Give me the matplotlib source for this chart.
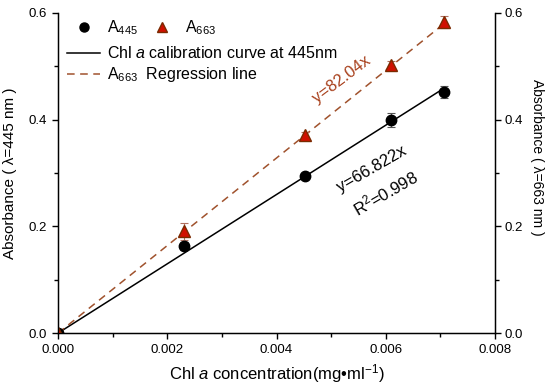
import matplotlib
matplotlib.use("Agg")
import matplotlib.pyplot as plt
import numpy as np
from matplotlib.lines import Line2D
from matplotlib.ticker import MultipleLocator, FormatStrFormatter

plt.rcParams['font.family'] = ['Liberation Sans', 'DejaVu Sans']
plt.rcParams['mathtext.fontset'] = 'custom'
plt.rcParams['mathtext.rm'] = 'Liberation Sans'
plt.rcParams['mathtext.it'] = 'Liberation Sans:italic'

conc = [0.0, 0.00231, 0.00452, 0.0061, 0.00707]
a445 = [0.0, 0.163, 0.294, 0.399, 0.452]
a445_err = [0.0, 0.008, 0.004, 0.013, 0.011]
a663 = [0.0, 0.191, 0.371, 0.503, 0.583]
a663_err = [0.0, 0.016, 0.006, 0.006, 0.011]
slope663 = 82.04

cx = np.array(conc)
cy = np.array(a445)
slope_fit445 = float((cx * cy).sum() / (cx * cx).sum())

fig = plt.figure(figsize=(5.5, 3.91), dpi=100)
ax = fig.add_axes([0.1055, 0.148, 0.7945, 0.819])

xl = np.array([0.0, conc[-1]])
ax.plot(xl, slope_fit445 * xl, color='black', lw=1.1, zorder=2)
ax.plot(xl, slope663 * xl, color='#A0522D', lw=1.1, ls=(0, (5, 3.6)), zorder=2)

ax.errorbar(conc, a445, yerr=a445_err, fmt='o', color='black', ms=7.5,
            ecolor='#555555', elinewidth=0.8, capsize=3, capthick=0.8, zorder=3)
ax.errorbar(conc, a663, yerr=a663_err, fmt='^', mfc='#D01000', mec='#7A2A00',
            ms=8.5, ecolor='#B07060', elinewidth=0.8, capsize=3, capthick=0.8, zorder=3)

ax.set_xlim(0, 0.008)
ax.set_ylim(0, 0.6)
ax.xaxis.set_major_locator(MultipleLocator(0.002))
ax.xaxis.set_minor_locator(MultipleLocator(0.001))
ax.yaxis.set_major_locator(MultipleLocator(0.2))
ax.yaxis.set_minor_locator(MultipleLocator(0.1))
ax.xaxis.set_major_formatter(FormatStrFormatter('%.3f'))
ax.yaxis.set_major_formatter(FormatStrFormatter('%.1f'))
ax.spines['top'].set_visible(False)
for s in ['left', 'bottom', 'right']:
    ax.spines[s].set_linewidth(1.0)
ax.tick_params(which='both', direction='out', labelsize=9.5, width=1.0, pad=4)
ax.tick_params(which='major', length=4)
ax.tick_params(which='minor', length=3)

ax2 = ax.twinx()
ax2.set_ylim(0, 0.6)
ax2.yaxis.set_major_locator(MultipleLocator(0.2))
ax2.yaxis.set_minor_locator(MultipleLocator(0.1))
ax2.yaxis.set_major_formatter(FormatStrFormatter('%.1f'))
ax2.spines['top'].set_visible(False)
ax2.tick_params(which='both', direction='out', labelsize=9.5, width=1.0, pad=3)
ax2.tick_params(which='major', length=4)
ax2.tick_params(which='minor', length=3)

ax.set_xlabel('Chl $a$ concentration(mg\u2022ml$^{-1}$)', fontsize=12, labelpad=4)
ax.set_ylabel('Absorbance ( \u03bb=445 nm )', fontsize=11)
ax.yaxis.set_label_coords(-0.094, 0.5)
ax2.set_ylabel('Absorbance ( \u03bb=663 nm )', fontsize=10, rotation=270, va='center')
ax2.yaxis.set_label_coords(1.096, 0.55)

ax.text(0.00519, 0.476, 'y=82.04x', color='#A8401C', fontsize=12, rotation=37,
        ha='center', va='center', rotation_mode='anchor')
ax.text(0.00575, 0.3075, 'y=66.822x', color='black', fontsize=12, rotation=30,
        ha='center', va='center', rotation_mode='anchor')
ax.text(0.0060, 0.2625, 'R$^2$=0.998', color='black', fontsize=12, rotation=30,
        ha='center', va='center', rotation_mode='anchor')

h1 = Line2D([], [], marker='o', ls='none', color='black', ms=6.5)
h2 = Line2D([], [], marker='^', ls='none', mfc='#D01000', mec='#7A2A00', ms=7.5)
leg1 = ax.legend([h1, h2], ['A$_{445}$', 'A$_{663}$'], ncol=2, frameon=False,
                 loc='center left', bbox_to_anchor=(0.032, 0.953), fontsize=11.5,
                 handlelength=1.5, columnspacing=0.75, handletextpad=0.7,
                 borderpad=0, borderaxespad=0)
ax.add_artist(leg1)
h3 = Line2D([], [], color='black', lw=1.1)
h4 = Line2D([], [], color='#A0522D', lw=1.1, ls=(0, (5, 3.6)))
ax.legend([h3, h4], ['Chl $a$ calibration curve at 445nm', 'A$_{663}$  Regression line'],
          frameon=False, loc='center left', bbox_to_anchor=(0.0206, 0.8375), fontsize=11.5,
          handlelength=2.06, handletextpad=0.44, labelspacing=0.25,
          borderpad=0, borderaxespad=0)

fig.savefig('out.png', dpi=100)
